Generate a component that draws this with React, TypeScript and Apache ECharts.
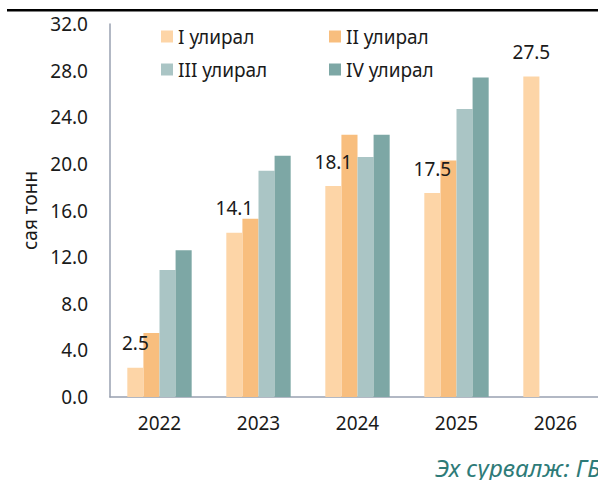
import React, { useEffect, useRef } from "react";
import * as echarts from "echarts";

const years = ["2022", "2023", "2024", "2025", "2026"];
const seriesNames = ["I улирал", "II улирал", "III улирал", "IV улирал"];
const q1 = [2.5, 14.1, 18.1, 17.5, 27.5];
const q2 = [5.5, 15.3, 22.5, 20.3, null];
const q3 = [10.9, 19.4, 20.6, 24.7, null];
const q4 = [12.6, 20.7, 22.5, 27.4, null];
const colors = ["#FDD5A7", "#F8BE7E", "#AAC5C5", "#7DA7A5"];
const yTicks = { min: 0, max: 32, interval: 4 };

const FONT = "Noto Sans";
const FS = 19;

export default function App() {
  const ref = useRef<HTMLDivElement>(null);
  useEffect(() => {
    const chart = echarts.init(ref.current!, null, { renderer: "svg" });
    const all = [q1, q2, q3, q4];
    const legendPos = [
      { left: 161, top: 27 },
      { left: 329, top: 27 },
      { left: 161, top: 60 },
      { left: 329, top: 60 },
    ];
    chart.setOption({
      animation: false,
      textStyle: { fontFamily: FONT },
      legend: seriesNames.map((n, i) => ({
        data: [n],
        left: legendPos[i].left,
        top: legendPos[i].top,
        padding: 0,
        icon: "rect",
        itemWidth: 12,
        itemHeight: 12,
        itemGap: 0,
        selectedMode: false,
        textStyle: { fontFamily: FONT, fontSize: FS, color: "#1a1a1a" },
      })),
      grid: { left: 110, right: 0, top: 24, bottom: 83, containLabel: false },
      xAxis: {
        type: "category",
        data: years,
        axisLine: { lineStyle: { color: "#98A0B0", width: 1.5 } },
        axisTick: { show: false },
        axisLabel: { fontFamily: FONT, fontSize: FS, color: "#1a1a1a", margin: 16 },
      },
      yAxis: {
        type: "value",
        min: yTicks.min,
        max: yTicks.max,
        interval: yTicks.interval,
        name: "сая тонн",
        nameLocation: "middle",
        nameRotate: 90,
        nameGap: 55,
        nameTextStyle: { fontFamily: FONT, fontSize: FS, color: "#1a1a1a" },
        axisLine: { show: true, lineStyle: { color: "#98A0B0", width: 1.5 } },
        axisTick: { show: false },
        splitLine: { show: false },
        axisLabel: {
          fontFamily: FONT,
          fontSize: FS,
          color: "#1a1a1a",
          margin: 22,
          formatter: (v: number) => v.toFixed(1),
        },
      },
      series: all.map((d, i) => ({
        type: "bar",
        name: seriesNames[i],
        data: d,
        barGap: "0%",
        barCategoryGap: "35%",
        itemStyle: { color: colors[i] },
        z: i === 0 ? 5 : 2,
        label:
          i === 0
            ? {
                show: true,
                position: "top",
                distance: 15,
                fontFamily: FONT,
                fontSize: FS,
                color: "#1a1a1a",
                formatter: (p: any) => Number(p.value).toFixed(1),
              }
            : { show: false },
      })),
      graphic: [
        { type: "rect", shape: { x: 7, y: 9, width: 600, height: 2.5 }, style: { fill: "#000" } },
        {
          type: "text",
          x: 435,
          y: 467,
          style: {
            text: "Эх сурвалж: ГБ",
            fontFamily: FONT,
            fontSize: 24,
            fontStyle: "italic",
            fill: "#2E7B78",
            verticalAlign: "middle",
          },
        },
      ],
    });
    return () => chart.dispose();
  }, []);
  return (
    <div style={{ position: "absolute", left: 0, top: 0, width: 598, height: 480, overflow: "hidden" }}>
      <div ref={ref} style={{ width: 605, height: 480 }} />
    </div>
  );
}
